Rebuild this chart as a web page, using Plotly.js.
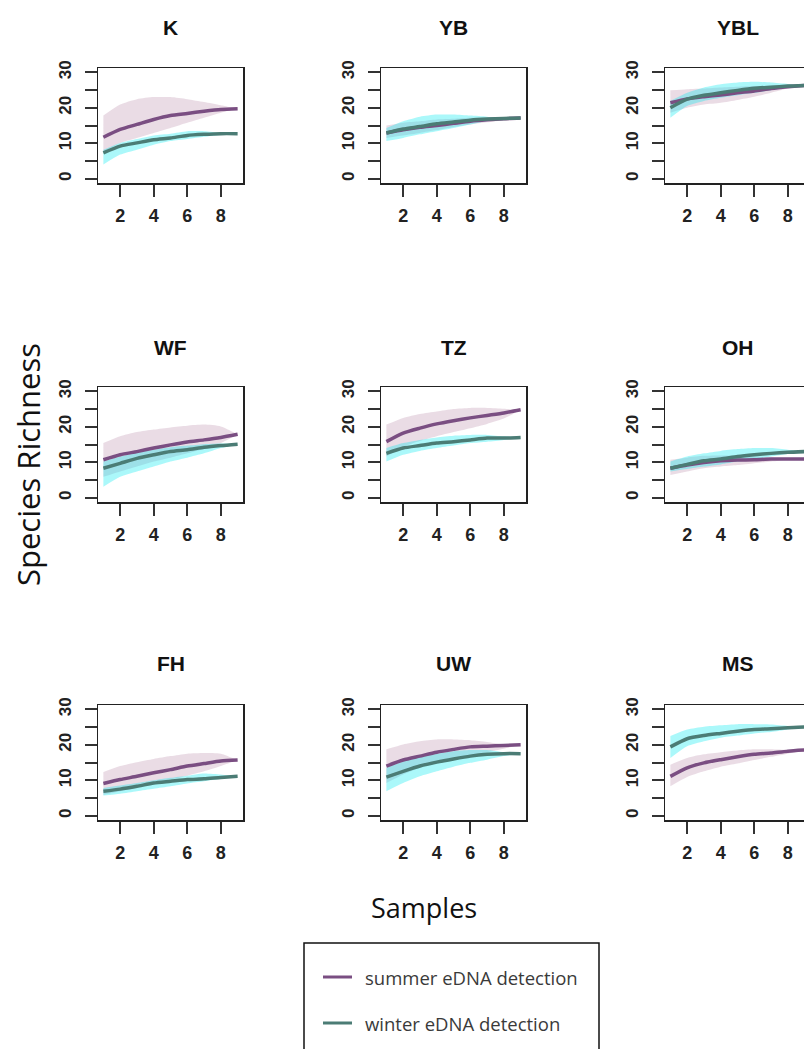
<!DOCTYPE html>
<html>
<head>
<meta charset="utf-8">
<script src="https://cdn.plot.ly/plotly-3.0.1.min.js"></script>
<style>
html,body{margin:0;padding:0;overflow:hidden;background:#fff;}
#chart{width:830px;height:1080px;}
</style>
</head>
<body>
<div id="chart"></div>
<script>
// ---------- data ----------
const sites = ['K','YB','YBL','WF','TZ','OH','FH','UW','MS'];
const samples = [1,2,3,4,5,6,7,8,9];
const xTickVals = [2,4,6,8];
const yTickVals = [0,5,10,15,20,25,30];
const yTickText = ['0','','10','','20','','30'];
const seriesNames = ['summer eDNA detection','winter eDNA detection'];

const summerMean = [
  [11.7,13.9,15.3,16.7,17.8,18.4,19.0,19.5,19.7],
  [12.9,13.8,14.5,15.0,15.6,16.2,16.6,16.9,17.1],
  [21.4,22.5,23.1,23.6,24.2,24.7,25.4,25.9,26.3],
  [10.7,12.1,13.0,14.0,14.9,15.7,16.3,17.0,17.9],
  [15.8,18.2,19.6,20.8,21.7,22.5,23.2,23.9,24.8],
  [8.3,9.2,9.9,10.4,10.6,10.7,10.9,10.9,10.9],
  [9.1,10.2,11.1,12.1,13.0,14.0,14.7,15.4,15.7],
  [14.0,15.7,16.8,17.9,18.7,19.4,19.6,19.8,20.0],
  [11.1,13.5,14.9,15.8,16.6,17.3,17.7,18.2,18.5]
];
const summerLow = [
  [7.5,10.1,11.5,12.9,14.3,15.8,17.2,18.6,19.7],
  [11.5,12.2,12.9,13.7,14.6,15.3,15.9,16.5,17.1],
  [18.6,20.0,20.9,21.4,22.2,23.1,24.2,25.4,26.3],
  [5.9,7.4,8.8,10.2,11.3,12.5,13.8,15.4,17.9],
  [11.6,14.4,16.0,17.3,18.5,19.6,20.8,22.3,24.8],
  [6.4,7.4,8.3,8.8,9.2,9.7,10.2,10.7,10.9],
  [5.9,6.9,7.8,9.1,10.2,11.3,12.5,14.0,15.7],
  [9.2,11.6,13.5,14.9,16.0,17.0,17.9,18.9,20.0],
  [8.3,10.9,12.5,13.8,14.7,15.7,16.6,17.5,18.5]
];
const summerHigh = [
  [17.8,20.9,22.4,23.0,23.0,22.4,21.6,20.7,19.7],
  [15.0,15.8,16.2,16.7,16.9,17.2,17.2,17.1,17.1],
  [24.9,25.2,25.4,25.7,25.9,26.1,26.3,26.3,26.3],
  [15.4,17.3,18.5,19.2,19.8,20.3,20.6,20.1,17.9],
  [20.6,22.5,23.6,24.3,25.0,25.3,25.3,25.1,24.8],
  [10.7,11.3,11.8,11.9,11.8,11.6,11.3,11.1,10.9],
  [12.3,14.0,15.1,16.0,16.8,17.5,17.7,17.5,15.7],
  [18.7,20.1,21.0,21.5,21.5,21.3,20.8,20.1,20.0],
  [14.4,16.3,17.3,17.9,18.4,18.7,18.7,18.5,18.5]
];
const winterMean = [
  [7.3,9.2,10.1,11.0,11.5,12.2,12.5,12.7,12.7],
  [12.9,14.0,14.7,15.5,16.0,16.5,16.8,17.0,17.1],
  [20.0,22.4,23.5,24.2,24.9,25.5,25.8,26.1,26.3],
  [8.3,9.7,11.1,12.1,13.0,13.5,14.2,14.7,15.1],
  [12.5,14.0,14.7,15.4,15.8,16.3,16.8,16.8,17.0],
  [8.3,9.4,10.4,10.9,11.6,12.1,12.5,12.8,13.0],
  [6.9,7.5,8.3,9.2,9.7,10.2,10.4,10.8,11.1],
  [10.9,12.5,14.0,15.1,16.0,16.8,17.3,17.5,17.5],
  [19.4,21.7,22.6,23.2,23.8,24.3,24.5,24.8,25.0]
];
const winterLow = [
  [4.0,6.8,8.2,9.6,10.6,11.2,11.8,12.4,12.7],
  [10.6,11.5,12.5,13.4,14.3,15.3,16.2,16.7,17.1],
  [17.2,20.5,21.9,22.8,23.5,24.2,24.9,25.7,26.3],
  [3.1,5.9,7.4,8.8,10.2,11.3,12.5,14.0,15.1],
  [10.2,12.1,13.2,14.0,14.7,15.4,15.8,16.3,17.0],
  [7.4,8.1,8.8,9.4,10.2,10.8,11.6,12.3,13.0],
  [5.7,6.2,6.9,7.6,8.3,9.1,9.7,10.4,11.1],
  [6.9,9.2,11.1,12.5,13.8,14.9,15.8,16.8,17.5],
  [16.3,19.6,21.0,22.0,22.6,23.2,23.6,24.3,25.0]
];
const winterHigh = [
  [8.2,10.1,11.2,12.2,12.7,13.4,13.4,12.9,12.7],
  [14.3,16.2,17.5,18.1,18.1,17.8,17.5,17.1,17.1],
  [21.9,24.2,25.7,26.6,27.1,27.3,27.1,26.7,26.3],
  [10.2,11.6,12.7,13.5,14.2,14.7,15.1,15.3,15.1],
  [14.0,15.4,16.3,17.0,17.5,17.7,17.7,17.3,17.0],
  [10.2,11.6,12.5,13.2,13.7,14.0,14.0,13.5,13.0],
  [7.8,8.5,9.2,10.0,10.7,11.3,11.9,11.6,11.1],
  [13.5,15.3,16.6,17.5,18.2,18.5,18.5,17.9,17.5],
  [22.5,24.3,25.1,25.5,25.8,25.8,25.7,25.3,25.0]
];

// ---------- styling ----------
const W = 830, H = 1080;
const summerLine = '#7a4e82';
const winterLine = '#4b7c75';
const summerBand = 'rgba(180,130,160,0.28)';
const winterBand = 'rgba(0,235,240,0.33)';
const colLeft = [98, 381, 665];
const rowTop = [68, 387, 705];
const boxW = 145, boxH = 115;
const titleY = [27, 347, 663];

const px = v => v / W;
const py = v => 1 - v / H;

const traces = [];
const layout = {
  width: W, height: H,
  margin: {l:0, r:0, t:0, b:0},
  paper_bgcolor: '#fff', plot_bgcolor: '#fff',
  showlegend: false,
  annotations: [], shapes: []
};

const xTickFont = {family: 'Liberation Sans, Arial, sans-serif', size: 18, color: '#222', weight: 'bold'};
const yTickFont = {family: 'Liberation Sans, Arial, sans-serif', size: 17, color: '#222', weight: 'bold'};

sites.forEach((site, i) => {
  const r = Math.floor(i / 3), c = i % 3;
  const n = i + 1;
  const xa = n === 1 ? 'x' : 'x' + n;
  const ya = n === 1 ? 'y' : 'y' + n;
  const xKey = n === 1 ? 'xaxis' : 'xaxis' + n;
  const yKey = n === 1 ? 'yaxis' : 'yaxis' + n;
  const l = colLeft[c], t = rowTop[r];
  layout[xKey] = {
    domain: [px(l), px(l + boxW)], anchor: ya,
    range: [0.68, 9.32], tickvals: xTickVals, ticks: 'outside', ticklen: 12, tickwidth: 2, tickcolor: '#333',
    showline: true, mirror: true, linecolor: '#222', linewidth: 1.5,
    showgrid: false, zeroline: false, tickfont: xTickFont, automargin: false, ticklabelstandoff: 4
  };
  layout[yKey] = {
    domain: [py(t + boxH), py(t)], anchor: xa,
    range: [-1.2, 31.2], tickvals: yTickVals, ticktext: yTickText, ticks: 'outside', ticklen: 12, tickwidth: 2, tickcolor: '#333',
    tickangle: -90,
    showline: true, mirror: true, linecolor: '#222', linewidth: 1.5,
    showgrid: false, zeroline: false, tickfont: yTickFont, automargin: false, ticklabelstandoff: 7
  };
  const bandX = samples.concat(samples.slice().reverse());
  traces.push({
    x: bandX, y: summerHigh[i].concat(summerLow[i].slice().reverse()),
    xaxis: xa, yaxis: ya, mode: 'lines', fill: 'toself', fillcolor: summerBand,
    line: {width: 0, shape: 'spline', smoothing: 0.6}, hoverinfo: 'skip'
  });
  traces.push({
    x: bandX, y: winterHigh[i].concat(winterLow[i].slice().reverse()),
    xaxis: xa, yaxis: ya, mode: 'lines', fill: 'toself', fillcolor: winterBand,
    line: {width: 0, shape: 'spline', smoothing: 0.6}, hoverinfo: 'skip'
  });
  traces.push({
    x: samples, y: summerMean[i], xaxis: xa, yaxis: ya, mode: 'lines', name: seriesNames[0],
    line: {color: summerLine, width: 3.5, shape: 'spline', smoothing: 0.6}
  });
  traces.push({
    x: samples, y: winterMean[i], xaxis: xa, yaxis: ya, mode: 'lines', name: seriesNames[1],
    line: {color: winterLine, width: 3.5, shape: 'spline', smoothing: 0.6}
  });
  layout.annotations.push({
    text: '<b>' + site + '</b>', xref: 'paper', yref: 'paper',
    x: px(l + boxW / 2), y: py(titleY[r]), xanchor: 'center', yanchor: 'middle',
    showarrow: false, font: {family: 'Liberation Sans, Arial, sans-serif', size: 21, color: '#111'}
  });
});

// axis titles
layout.annotations.push({
  text: 'Species Richness', xref: 'paper', yref: 'paper', x: px(28), y: py(465),
  xanchor: 'center', yanchor: 'middle', textangle: -90, showarrow: false,
  font: {family: 'Open Sans, sans-serif', size: 31, color: '#111'}
});
layout.annotations.push({
  text: 'Samples', xref: 'paper', yref: 'paper', x: px(424), y: py(907),
  xanchor: 'center', yanchor: 'middle', showarrow: false,
  font: {family: 'Open Sans, sans-serif', size: 27, color: '#111'}
});

// legend box
layout.shapes.push({type: 'rect', xref: 'paper', yref: 'paper',
  x0: px(304), x1: px(599), y0: py(1075), y1: py(943),
  line: {color: '#111', width: 1.5}, fillcolor: 'rgba(0,0,0,0)'});
const legY = [977, 1023];
const legColors = [summerLine, winterLine];
seriesNames.forEach((nm, k) => {
  layout.shapes.push({type: 'line', xref: 'paper', yref: 'paper',
    x0: px(323), x1: px(352), y0: py(legY[k]), y1: py(legY[k]),
    line: {color: legColors[k], width: 3}});
  layout.annotations.push({
    text: nm, xref: 'paper', yref: 'paper', x: px(363), y: py(legY[k]),
    xanchor: 'left', yanchor: 'middle', showarrow: false,
    font: {family: 'Open Sans, sans-serif', size: 18.5, color: '#3a3a3a'}
  });
});

Plotly.newPlot('chart', traces, layout, {staticPlot: true, displayModeBar: false});
</script>
</body>
</html>
